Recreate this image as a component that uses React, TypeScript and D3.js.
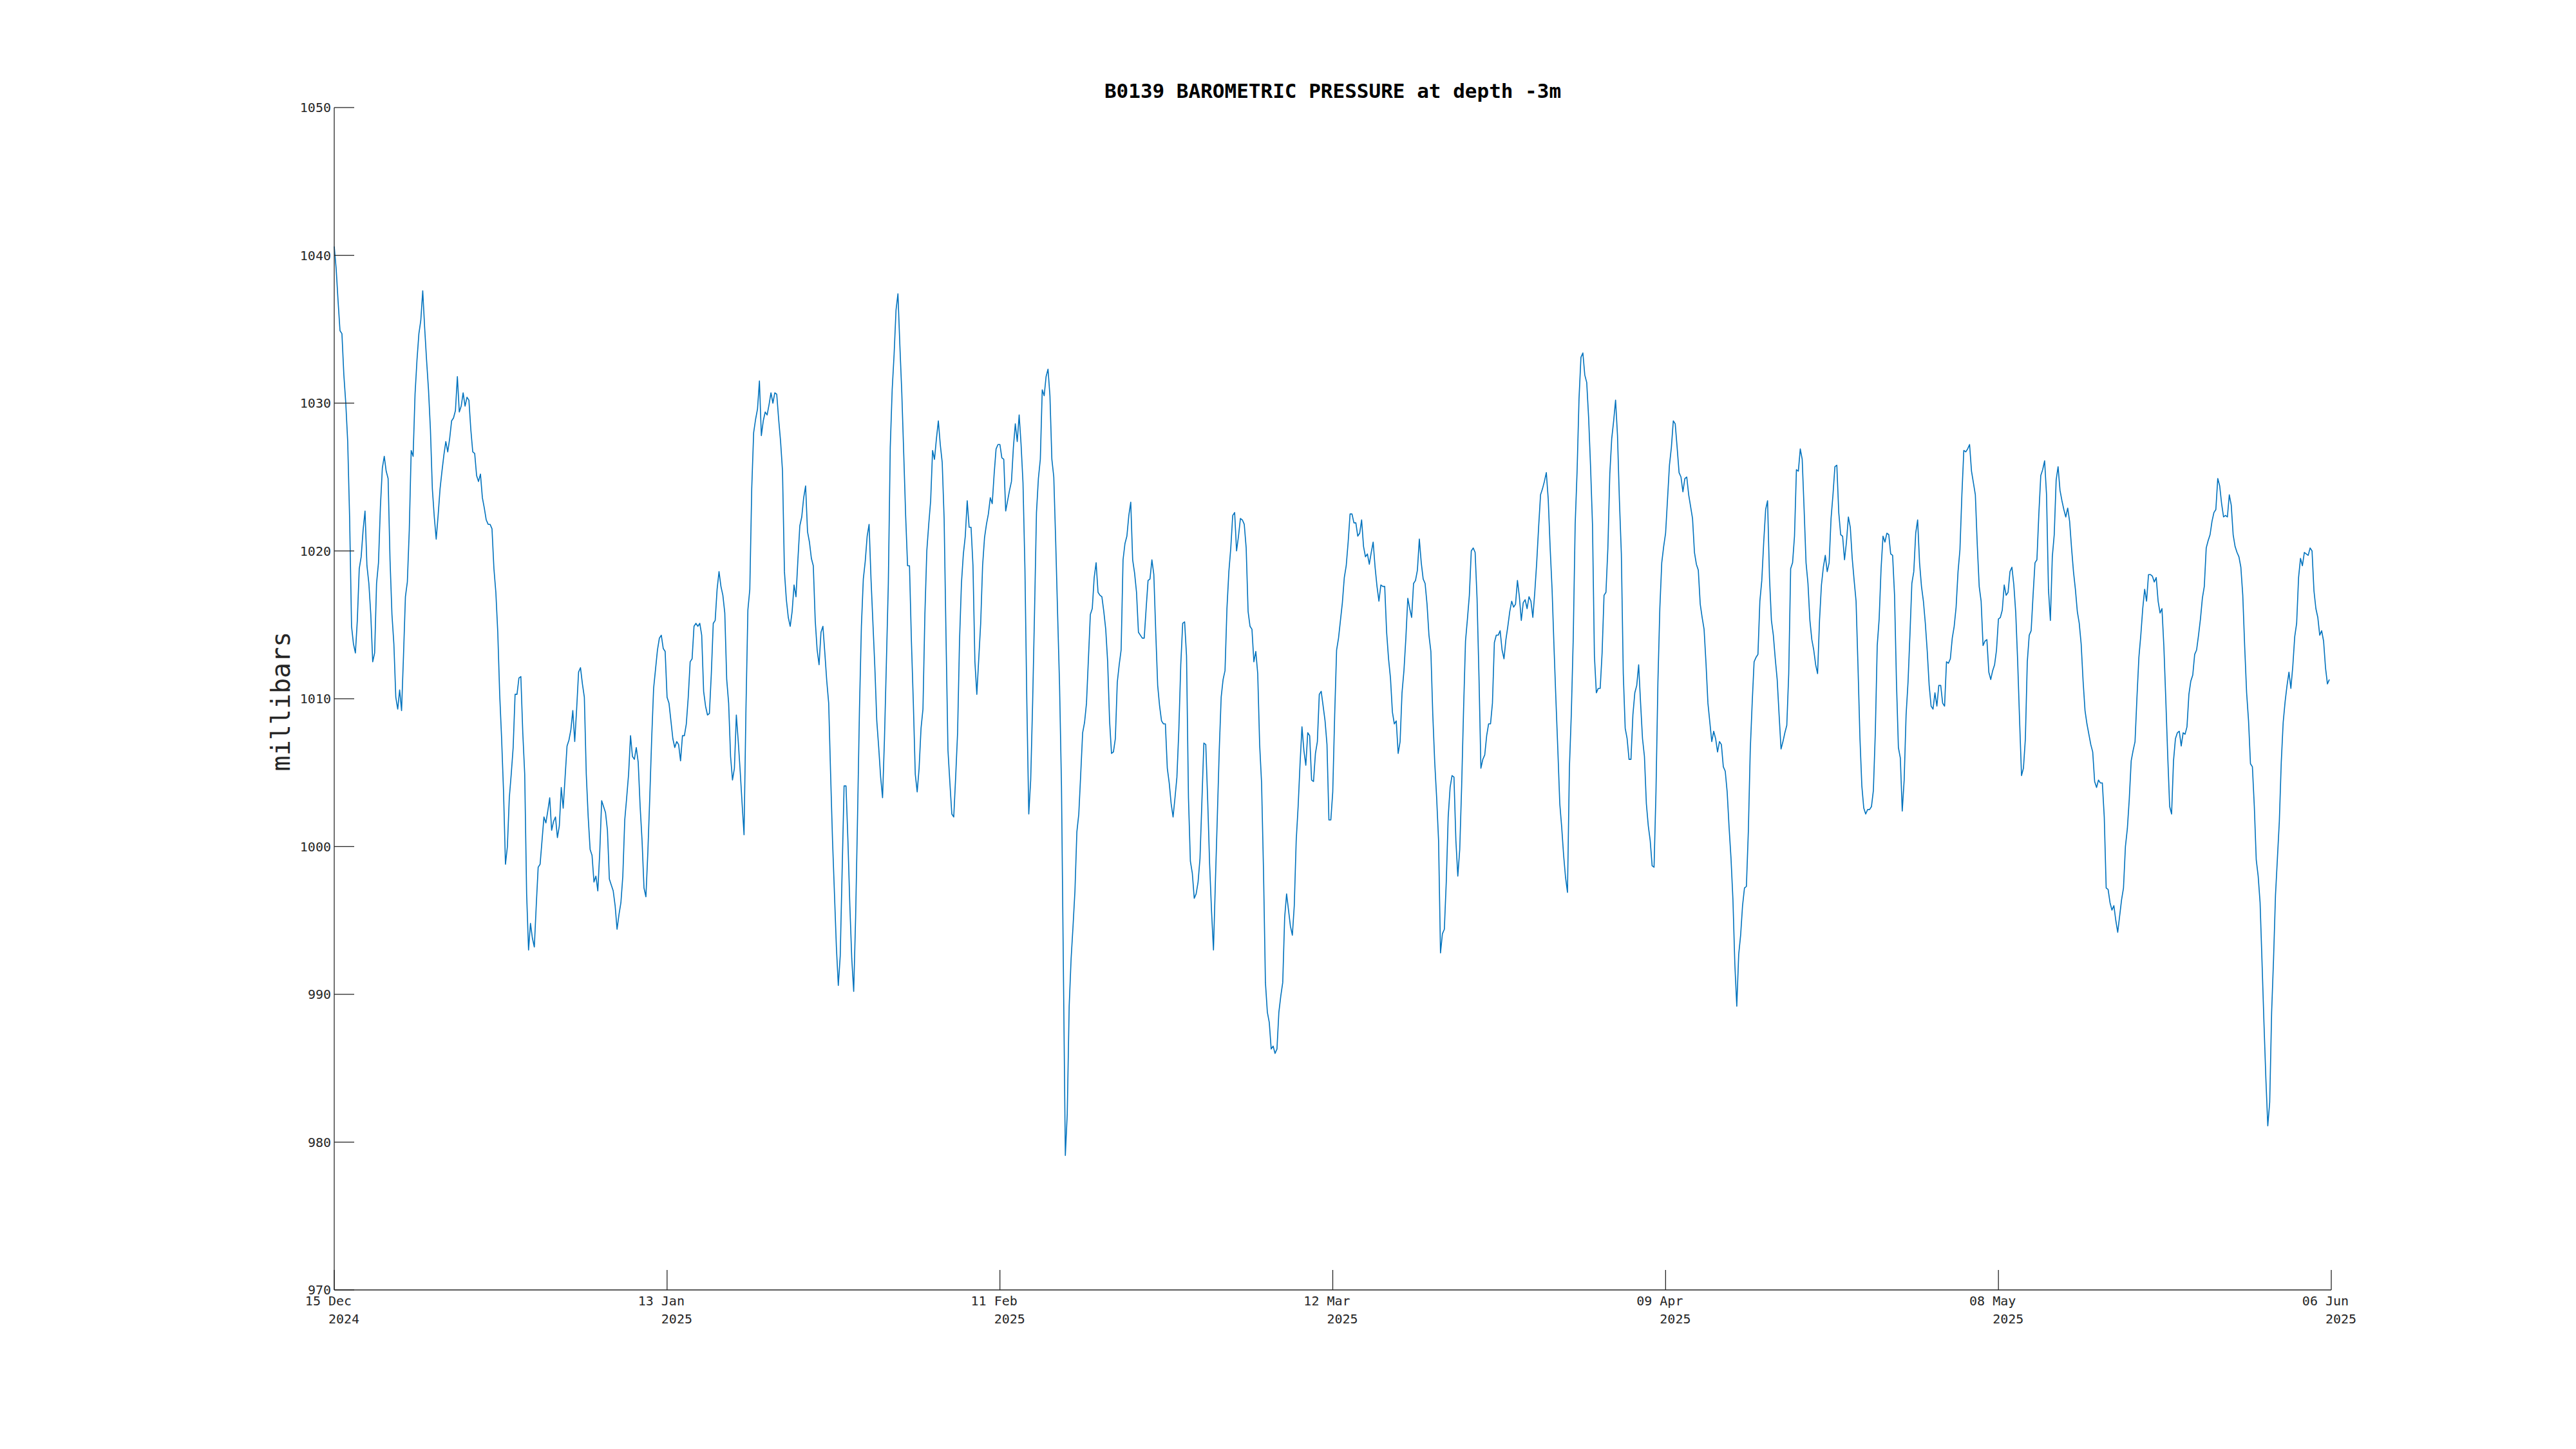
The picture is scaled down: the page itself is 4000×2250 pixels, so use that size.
import * as d3 from "d3";

// pressure readings, one every 4 hours from 15 Dec 2024 00:00 (UTC)
const START = Date.UTC(2024, 11, 15);
const STEP_HOURS = 4;
const SPAN_DAYS = 173;

// 15 Dec -> 13 Jan
const decJan = [
  1040.6, 1039.1, 1036.9, 1034.9, 1034.7, 1031.9, 1030.0, 1027.4, 1022.2, 1014.9,
  1013.7, 1013.1, 1015.3, 1018.8, 1019.6, 1021.4, 1022.7, 1019.0, 1017.8, 1015.7,
  1012.5, 1013.1, 1017.8, 1019.2, 1023.0, 1025.6, 1026.4, 1025.4, 1024.9, 1019.4,
  1015.7, 1013.7, 1010.1, 1009.3, 1010.6, 1009.2, 1012.9, 1016.9, 1017.9, 1021.4,
  1026.8, 1026.4, 1030.6, 1032.9, 1034.7, 1035.6, 1037.6, 1035.1, 1032.9, 1030.9,
  1028.2, 1024.2, 1022.3, 1020.8, 1022.4, 1024.2, 1025.4, 1026.5, 1027.4, 1026.7,
  1027.6, 1028.8, 1029.0, 1029.5, 1031.8, 1029.4, 1029.8, 1030.7, 1029.8, 1030.4,
  1030.2, 1028.2, 1026.7, 1026.6, 1025.1, 1024.7, 1025.2, 1023.6, 1022.9, 1022.1,
  1021.8, 1021.8, 1021.5, 1018.8, 1017.2, 1014.5, 1010.3, 1007.3, 1003.7, 998.8,
  1000.0, 1003.3, 1004.9, 1006.7, 1010.3, 1010.3, 1011.4, 1011.5, 1007.7, 1004.9,
  996.8, 993.0, 994.8, 993.8, 993.2, 996.0, 998.6, 998.8, 1000.4, 1002.0,
  1001.6, 1002.4, 1003.3, 1001.1, 1001.7, 1002.0, 1000.6, 1001.4, 1004.0, 1002.6,
  1004.7, 1006.8, 1007.2, 1007.9, 1009.2, 1007.1, 1009.3, 1011.8, 1012.1, 1011.0,
  1010.1, 1004.9, 1002.0, 999.8, 999.4, 997.6, 998.0, 997.0, 999.6, 1003.1,
  1002.7, 1002.3, 1001.1, 997.8, 997.4, 997.0, 996.0, 994.4, 995.4, 996.2,
  998.0, 1001.8, 1003.3, 1004.9, 1007.5, 1006.1, 1005.9, 1006.7, 1005.7, 1002.7,
  1000.4, 997.2, 996.6, 999.6, 1003.3, 1007.3, 1010.7, 1012.0, 1013.3, 1014.1,
  1014.3, 1013.4, 1013.2, 1010.1,
];

// 13 Jan -> 11 Feb
const janFeb = [
  1009.7, 1008.5, 1007.3, 1006.7, 1007.1, 1006.9, 1005.8, 1007.5, 1007.5, 1008.3,
  1010.1, 1012.5, 1012.7, 1014.9, 1015.1, 1014.9, 1015.1, 1014.3, 1010.5, 1009.5,
  1008.9, 1009.0, 1011.7, 1015.1, 1015.3, 1017.4, 1018.6, 1017.6, 1017.0, 1015.8,
  1011.3, 1009.7, 1006.1, 1004.5, 1005.3, 1008.9, 1007.1, 1005.1, 1002.9, 1000.8,
  1009.3, 1016.0, 1017.4, 1024.2, 1028.0, 1028.9, 1029.6, 1031.5, 1027.8, 1028.8,
  1029.4, 1029.2, 1029.9, 1030.7, 1030.0, 1030.7, 1030.6, 1028.9, 1027.4, 1025.4,
  1018.6, 1016.7, 1015.5, 1014.9, 1015.9, 1017.7, 1016.9, 1019.4, 1021.7, 1022.3,
  1023.6, 1024.4, 1021.3, 1020.6, 1019.5, 1019.0, 1015.3, 1013.3, 1012.3, 1014.5,
  1014.9, 1013.1, 1011.2, 1009.7, 1004.9, 1000.4, 996.8, 993.2, 990.6, 992.6,
  998.4, 1004.1, 1004.1, 1000.4, 996.0, 992.4, 990.2, 995.2, 1002.0, 1009.3,
  1014.9, 1018.1, 1019.3, 1021.0, 1021.8, 1018.1, 1015.1, 1012.1, 1008.5, 1006.7,
  1004.7, 1003.3, 1007.3, 1012.5, 1017.8, 1027.0, 1030.9, 1033.3, 1036.3, 1037.4,
  1033.9, 1030.7, 1026.6, 1022.4, 1019.0, 1019.0, 1013.9, 1009.7, 1004.9, 1003.7,
  1005.3, 1008.0, 1009.3, 1015.7, 1020.0, 1021.8, 1023.4, 1026.8, 1026.2, 1027.6,
  1028.8, 1027.2, 1026.0, 1022.2, 1014.1, 1006.5, 1004.3, 1002.2, 1002.0, 1004.7,
  1007.7, 1013.9, 1017.8, 1019.8, 1021.0, 1023.4, 1021.6, 1021.6, 1019.0, 1012.5,
  1010.3, 1012.7, 1015.1, 1019.0, 1020.9, 1021.8, 1022.5, 1023.6, 1023.2, 1025.2,
  1026.9, 1027.2, 1027.2, 1026.3,
];

// 11 Feb -> 12 Mar
const febMar = [
  1026.2, 1022.7, 1023.4, 1024.1, 1024.7, 1027.0, 1028.6, 1027.4, 1029.2, 1027.2,
  1024.6, 1018.8, 1009.7, 1002.2, 1004.5, 1009.7, 1015.9, 1022.6, 1024.9, 1026.2,
  1030.9, 1030.5, 1031.8, 1032.3, 1030.5, 1026.2, 1025.0, 1020.6, 1015.7, 1010.9,
  1004.1, 991.6, 979.1, 981.9, 989.2, 992.4, 994.6, 997.0, 1001.0, 1002.2,
  1004.9, 1007.7, 1008.4, 1009.7, 1012.7, 1015.7, 1016.1, 1018.2, 1019.2, 1017.2,
  1017.0, 1016.9, 1015.9, 1014.7, 1012.5, 1008.5, 1006.3, 1006.4, 1007.3, 1011.1,
  1012.3, 1013.3, 1019.4, 1020.5, 1021.0, 1022.4, 1023.3, 1019.4, 1018.5, 1017.2,
  1014.5, 1014.3, 1014.1, 1014.1, 1016.1, 1018.0, 1018.1, 1019.4, 1018.4, 1014.5,
  1010.9, 1009.5, 1008.5, 1008.3, 1008.3, 1005.3, 1004.3, 1002.9, 1002.0, 1003.3,
  1004.7, 1007.9, 1012.3, 1015.1, 1015.2, 1012.9, 1003.3, 999.0, 998.2, 996.5,
  996.8, 997.6, 999.2, 1003.1, 1007.0, 1006.9, 1003.1, 998.8, 995.6, 993.0,
  997.6, 1002.0, 1006.5, 1010.1, 1011.3, 1011.9, 1016.1, 1018.6, 1020.2, 1022.4,
  1022.6, 1020.0, 1021.0, 1022.2, 1022.1, 1021.8, 1020.2, 1015.9, 1014.9, 1014.7,
  1012.5, 1013.2, 1011.7, 1006.9, 1004.3, 998.4, 990.8, 988.8, 988.1, 986.3,
  986.5, 986.0, 986.3, 988.8, 989.9, 990.8, 995.2, 996.8, 995.7, 994.6,
  994.0, 996.0, 1000.4, 1002.7, 1005.6, 1008.1, 1006.5, 1005.5, 1007.7, 1007.5,
  1004.5, 1004.4, 1006.3, 1007.1, 1010.3, 1010.5, 1009.5, 1008.5, 1006.9, 1001.8,
  1001.8, 1003.7, 1008.9, 1013.3,
];

// 12 Mar -> 10 Apr
const marApr = [
  1014.1, 1015.3, 1016.5, 1018.2, 1019.0, 1020.6, 1022.5, 1022.5, 1021.9, 1021.9,
  1021.0, 1021.2, 1022.1, 1020.3, 1019.6, 1019.8, 1019.1, 1019.9, 1020.6, 1018.9,
  1017.6, 1016.6, 1017.7, 1017.6, 1017.6, 1014.5, 1012.7, 1011.4, 1009.1, 1008.3,
  1008.5, 1006.3, 1007.1, 1010.4, 1011.9, 1014.1, 1016.8, 1016.1, 1015.5, 1017.8,
  1018.0, 1018.7, 1020.8, 1019.2, 1018.1, 1017.8, 1016.4, 1014.3, 1013.2, 1008.9,
  1005.7, 1003.3, 1000.4, 992.8, 994.1, 994.4, 997.6, 1002.0, 1004.0, 1004.8,
  1004.7, 1000.4, 998.0, 999.8, 1004.1, 1009.3, 1013.9, 1015.4, 1017.0, 1020.0,
  1020.2, 1019.9, 1016.8, 1011.5, 1005.3, 1005.9, 1006.2, 1007.5, 1008.3, 1008.3,
  1009.7, 1013.8, 1014.3, 1014.3, 1014.6, 1013.3, 1012.7, 1014.0, 1014.9, 1015.9,
  1016.6, 1016.2, 1016.4, 1018.0, 1016.9, 1015.3, 1016.5, 1016.7, 1016.1, 1016.9,
  1016.6, 1015.5, 1017.2, 1019.2, 1021.6, 1023.8, 1024.2, 1024.7, 1025.3, 1023.5,
  1020.2, 1017.4, 1013.5, 1009.9, 1006.5, 1002.9, 1001.3, 999.4, 997.9, 996.9,
  1005.3, 1009.0, 1014.1, 1021.8, 1025.4, 1030.3, 1033.1, 1033.4, 1031.9, 1031.4,
  1029.0, 1025.7, 1021.8, 1012.9, 1010.4, 1010.7, 1010.7, 1013.1, 1017.0, 1017.2,
  1020.2, 1025.2, 1027.6, 1028.8, 1030.2, 1027.8, 1023.4, 1019.8, 1011.7, 1008.0,
  1007.3, 1005.9, 1005.9, 1008.9, 1010.4, 1010.9, 1012.3, 1009.7, 1007.3, 1006.1,
  1002.9, 1001.4, 1000.4, 998.7, 998.6, 1003.7, 1011.1, 1016.1, 1019.2, 1020.3,
  1021.2, 1023.5, 1025.8, 1027.0,
];

// 10 Apr -> 09 May
const aprMay = [
  1028.8, 1028.6, 1027.0, 1025.3, 1025.0, 1024.0, 1024.9, 1025.0, 1023.8, 1023.0,
  1022.2, 1019.9, 1019.1, 1018.7, 1016.4, 1015.5, 1014.7, 1012.4, 1009.7, 1008.4,
  1007.1, 1007.8, 1007.3, 1006.4, 1007.1, 1006.9, 1005.4, 1005.1, 1003.7, 1001.3,
  999.2, 996.4, 992.0, 989.2, 992.7, 994.0, 996.0, 997.2, 997.3, 1001.0,
  1006.5, 1009.7, 1012.5, 1012.8, 1013.0, 1016.6, 1018.0, 1020.6, 1022.8, 1023.4,
  1018.2, 1015.3, 1014.3, 1012.7, 1011.3, 1008.9, 1006.6, 1007.1, 1007.7, 1008.2,
  1011.7, 1018.8, 1019.2, 1021.0, 1025.5, 1025.4, 1026.9, 1026.2, 1022.8, 1019.2,
  1017.8, 1015.3, 1014.0, 1013.3, 1012.3, 1011.7, 1015.3, 1017.7, 1018.9, 1019.7,
  1018.6, 1019.2, 1022.2, 1023.8, 1025.7, 1025.8, 1022.6, 1021.1, 1021.0, 1019.4,
  1020.6, 1022.3, 1021.6, 1019.5, 1018.0, 1016.6, 1012.2, 1007.4, 1004.1, 1002.6,
  1002.2, 1002.5, 1002.5, 1002.7, 1003.8, 1007.7, 1013.6, 1015.4, 1018.8, 1021.0,
  1020.6, 1021.2, 1021.1, 1019.8, 1019.7, 1017.0, 1011.1, 1006.7, 1006.0, 1002.4,
  1004.5, 1008.9, 1011.1, 1014.3, 1017.8, 1018.6, 1021.2, 1022.1, 1019.2, 1017.6,
  1016.6, 1015.1, 1013.2, 1010.9, 1009.5, 1009.3, 1010.4, 1009.5, 1010.9, 1010.9,
  1009.7, 1009.5, 1012.5, 1012.4, 1012.7, 1014.1, 1014.9, 1016.2, 1018.6, 1020.1,
  1023.8, 1026.8, 1026.7, 1026.9, 1027.2, 1025.4, 1024.6, 1023.8, 1020.4, 1017.6,
  1016.6, 1013.6, 1013.9, 1014.0, 1011.8, 1011.3, 1011.9, 1012.3, 1013.3, 1015.4,
  1015.5, 1016.0, 1017.7, 1017.0,
];

// 09 May -> 06 Jun
const mayJun = [
  1017.2, 1018.6, 1018.9, 1017.7, 1015.8, 1012.5, 1008.5, 1004.8, 1005.3, 1007.3,
  1012.5, 1014.3, 1014.6, 1017.0, 1019.2, 1019.4, 1022.5, 1025.1, 1025.5, 1026.1,
  1023.8, 1017.4, 1015.3, 1019.6, 1021.1, 1024.8, 1025.7, 1024.1, 1023.4, 1022.8,
  1022.3, 1022.9, 1022.0, 1020.2, 1018.6, 1017.4, 1015.9, 1015.1, 1013.7, 1011.2,
  1009.2, 1008.3, 1007.6, 1006.9, 1006.4, 1004.4, 1004.0, 1004.5, 1004.3, 1004.3,
  1002.0, 997.2, 997.1, 996.2, 995.7, 996.0, 995.0, 994.2, 995.3, 996.4,
  997.2, 1000.0, 1001.2, 1003.2, 1005.8, 1006.5, 1007.1, 1010.1, 1012.8, 1014.3,
  1016.1, 1017.4, 1016.6, 1018.4, 1018.4, 1018.3, 1017.9, 1018.2, 1016.6, 1015.8,
  1016.1, 1013.5, 1009.9, 1006.1, 1002.7, 1002.2, 1005.8, 1007.3, 1007.7, 1007.8,
  1006.8, 1007.7, 1007.6, 1008.1, 1010.3, 1011.2, 1011.6, 1013.0, 1013.3, 1014.3,
  1015.4, 1016.8, 1017.6, 1020.2, 1020.7, 1021.1, 1022.0, 1022.6, 1022.8, 1024.9,
  1024.4, 1023.2, 1022.3, 1022.4, 1022.3, 1023.8, 1023.1, 1021.1, 1020.3, 1019.9,
  1019.6, 1018.9, 1017.0, 1013.5, 1010.4, 1008.5, 1005.6, 1005.4, 1002.7, 999.1,
  998.0, 996.2, 992.2, 988.1, 984.3, 981.1, 982.7, 988.8, 992.4, 996.7,
  999.2, 1001.7, 1005.7, 1008.4, 1009.8, 1010.9, 1011.8, 1010.7, 1012.2, 1014.2,
  1015.1, 1018.2, 1019.5, 1019.0, 1019.9, 1019.8, 1019.7, 1020.2, 1020.0, 1017.3,
  1016.1, 1015.5, 1014.3, 1014.6, 1013.9, 1012.1, 1011.0, 1011.3,
];

const yTicks = [970, 980, 990, 1000, 1010, 1020, 1030, 1040, 1050];
const xTickLabels = [
  ["15 Dec", "2024"],
  ["13 Jan", "2025"],
  ["11 Feb", "2025"],
  ["12 Mar", "2025"],
  ["09 Apr", "2025"],
  ["08 May", "2025"],
  ["06 Jun", "2025"],
];

const TITLE = "B0139 BAROMETRIC PRESSURE at depth -3m";
const Y_LABEL = "millibars";

const FONT = "'DejaVu Sans Mono', monospace";
const AXIS = "#262626";
const LINE = "#0072BD";

export default function App() {
  const W = 4000;
  const H = 2250;
  const m = { left: 519, right: 3620, top: 167, bottom: 2003 };
  const tickLen = 31;
  const fs = 20;
  const charW = fs * 0.602;

  const pressure = [...decJan, ...janFeb, ...febMar, ...marApr, ...aprMay, ...mayJun];
  const series = pressure.map((v, i) => ({
    t: new Date(START + i * STEP_HOURS * 3600e3),
    v,
  }));

  const x = d3
    .scaleUtc()
    .domain([new Date(START), new Date(START + SPAN_DAYS * 864e5)])
    .range([m.left, m.right]);
  const y = d3.scaleLinear().domain([970, 1050]).range([m.bottom, m.top]);

  const line = d3
    .line<{ t: Date; v: number }>()
    .x((d) => x(d.t))
    .y((d) => y(d.v));

  // ticks are spread evenly over the span, labelled by date
  const xTicks = xTickLabels.map((lab, i) => ({
    t: new Date(START + ((i * SPAN_DAYS) / (xTickLabels.length - 1)) * 864e5),
    lab,
  }));

  return (
    <svg
      width={W}
      height={H}
      style={{ position: "absolute", left: 0, top: 0, background: "#fff" }}
      fontFamily={FONT}
    >
      <rect x={0} y={0} width={W} height={H} fill="#fff" />

      <text
        x={(m.left + m.right) / 2}
        y={152}
        textAnchor="middle"
        fontSize={31}
        fontWeight="bold"
        fill="#000"
      >
        {TITLE}
      </text>

      <path d={line(series) || ""} fill="none" stroke={LINE} strokeWidth={1.6} strokeLinejoin="round" />

      {/* axes */}
      <g stroke={AXIS} strokeWidth={1.3} fill="none">
        <line x1={m.left} x2={m.left} y1={m.top} y2={m.bottom} />
        <line x1={m.left} x2={m.right} y1={m.bottom} y2={m.bottom} />
        {yTicks.map((v) => (
          <line key={v} x1={m.left} x2={m.left + tickLen} y1={y(v)} y2={y(v)} />
        ))}
        {xTicks.map((d, i) => (
          <line key={i} x1={x(d.t)} x2={x(d.t)} y1={m.bottom} y2={m.bottom - tickLen} />
        ))}
      </g>

      <g fontSize={fs} fill={AXIS}>
        {yTicks.map((v) => (
          <text key={v} x={m.left - 5} y={y(v)} dy="0.36em" textAnchor="end">
            {v}
          </text>
        ))}
        {xTicks.map((d, i) => {
          const x0 = x(d.t) - 3.75 * charW;
          return (
            <g key={i}>
              <text x={x0} y={m.bottom + 24}>
                {d.lab[0]}
              </text>
              <text x={x0 + 3 * charW} y={m.bottom + 52}>
                {d.lab[1]}
              </text>
            </g>
          );
        })}
      </g>

      <text
        transform={`translate(450, ${(m.top + m.bottom) / 2 + 4}) rotate(-90)`}
        textAnchor="middle"
        fontSize={40}
        fill={AXIS}
      >
        {Y_LABEL}
      </text>
    </svg>
  );
}
